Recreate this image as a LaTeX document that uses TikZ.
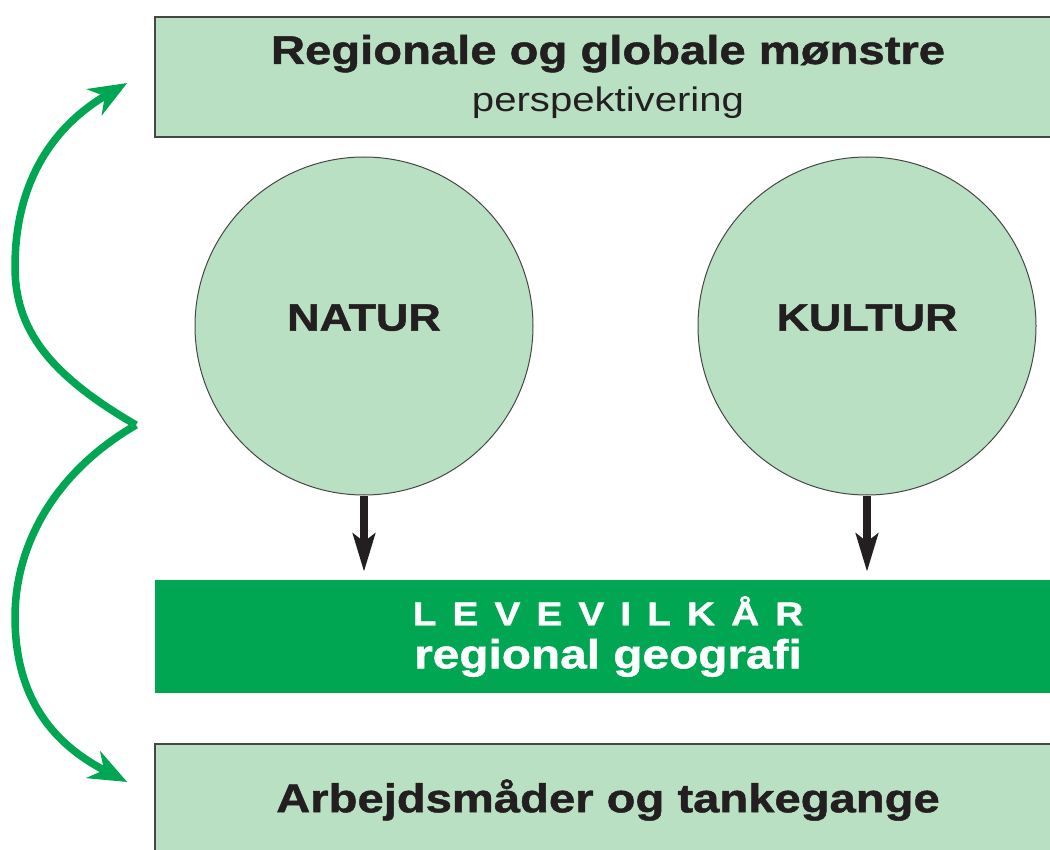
\documentclass[tikz,border=0pt]{standalone}
\usepackage{fontspec}
\setmainfont{Liberation Sans}[FakeStretch=1.18, BoldFeatures={FakeBold=1.2}]
\usepackage{xcolor}
\usetikzlibrary{arrows.meta, positioning}
\definecolor{lightgreen}{RGB}{186,224,195}
\definecolor{darkgreen}{RGB}{0,166,81}
\definecolor{inkblack}{RGB}{35,31,32}
\definecolor{framegray}{RGB}{70,70,70}

\begin{document}
\begin{tikzpicture}[x=1pt, y=-1pt,
    lightbox/.style={rectangle, draw=framegray, line width=1.5pt, fill=lightgreen, minimum width=906pt, text=inkblack, align=center, inner sep=0pt},
    bigcircle/.style={circle, draw=framegray, line width=1pt, fill=lightgreen, minimum size=338pt, text depth=17pt, inner sep=0pt, font=\fontsize{38}{38}\selectfont\bfseries, text=inkblack},
    downarrow/.style={-{Stealth[length=38pt,width=22pt,inset=8pt]}, line width=8pt, inkblack, shorten >=8pt},
    looparrow/.style={-{Stealth[length=38pt,width=30pt,inset=12pt]}, line width=7.5pt, darkgreen}]
  \useasboundingbox (0,0) rectangle (1050,850);
  \clip (0,0) rectangle (1050,850);

  % boxes
  \node[lightbox, minimum height=120pt, font=\fontsize{40}{48}\selectfont\bfseries] (globale) at (608,77)
    {Regionale og globale mønstre\\{\mdseries\fontsize{34}{48}\selectfont perspektivering}};
  \node[rectangle, fill=darkgreen, minimum width=906pt, minimum height=113pt, text=white, align=center, inner sep=0pt,
        font=\fontsize{40.5}{43}\selectfont\bfseries] (levevilkaar) at (608,636.5)
    {{\fontsize{33}{43}\selectfont L\kern16pt E\kern16pt V\kern16pt E\kern16pt V\kern16pt I\kern16pt L\kern16pt K\kern16pt Å\kern16pt R}\\regional geografi};
  \node[lightbox, minimum height=112pt, font=\fontsize{40}{40}\selectfont\bfseries] (arbejd) at (608,800)
    {Arbejdsmåder og tankegange};

  % circles
  \node[bigcircle] (natur) at (364,326) {NATUR};
  \node[bigcircle] (kultur) at (867,326) {KULTUR};

  \draw[downarrow] (natur.south) -- (natur.south |- levevilkaar.north);
  \draw[downarrow] (kultur.south) -- (kultur.south |- levevilkaar.north);

  % green loop
  \coordinate (spids) at (136,425);
  \coordinate (optop) at ([xshift=-27pt,yshift=-6pt]globale.west);
  \coordinate (opbund) at ([xshift=-27pt,yshift=18pt]arbejd.west);
  \draw[looparrow] (spids) .. controls (50,375) and (15,330) .. (15,267) .. controls (15,180) and (55,125) .. (optop);
  \draw[looparrow] (spids) .. controls (50,475) and (15,550) .. (15,617) .. controls (15,700) and (55,745) .. (opbund);
\end{tikzpicture}
\end{document}
